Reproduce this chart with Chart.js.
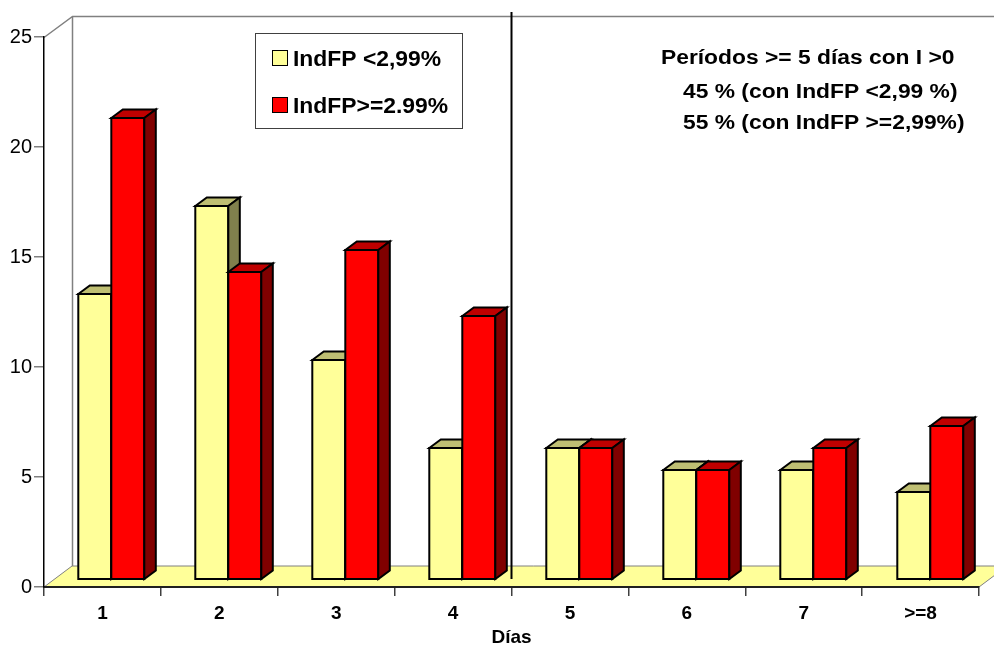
<!DOCTYPE html>
<html>
<head>
<meta charset="utf-8">
<script src="https://cdn.jsdelivr.net/npm/chart.js@4.4.1/dist/chart.umd.min.js"></script>
<style>
  html, body { margin: 0; padding: 0; background: #fff; }
  #wrap { width: 994px; height: 649px; }
</style>
</head>
<body>
<div id="wrap"><canvas id="chart" width="994" height="649"></canvas></div>
<script>
const categories = ["1", "2", "3", "4", "5", "6", "7", ">=8"]
const lowIndFP = [13, 17, 10, 6, 6, 5, 5, 4]
const highIndFP = [21, 14, 15, 12, 6, 5, 6, 7]
const seriesNames = ["IndFP <2,99%", "IndFP>=2.99%"]
const yTicks = [0, 5, 10, 15, 20, 25]
const noteLines = ["Períodos >= 5 días con I >0", "45 % (con IndFP <2,99 %)", "55 % (con IndFP >=2,99%)"]

const FONT = "'Liberation Sans', Arial, sans-serif"

// fake 3D: depth of the floor/walls, where the bars sit in it, and how deep a bar is
const DEPTH = { dx: 28, dy: -21 }
const BAR_SHIFT = { dx: 9.3, dy: -7 }
const BAR_DEPTH = { dx: 11.5, dy: -8.5 }

const faces = [
  { front: "#ffff99", top: "#bfbf73", side: "#80804d" },
  { front: "#ff0000", top: "#bf0000", side: "#800000" },
]

function poly(ctx, pts, fill) {
  ctx.beginPath()
  ctx.moveTo(pts[0][0], pts[0][1])
  for (let i = 1; i < pts.length; i++) ctx.lineTo(pts[i][0], pts[i][1])
  ctx.closePath()
  ctx.fillStyle = fill
  ctx.fill()
  ctx.stroke()
}

function stretchedText(ctx, text, x, y, font, sx) {
  ctx.save()
  ctx.translate(x, y)
  ctx.scale(sx, 1)
  ctx.font = font
  ctx.fillText(text, 0, 0)
  ctx.restore()
}

const box3d = {
  id: "box3d",
  beforeDraw(chart) {
    const { ctx, chartArea: a } = chart
    const { dx, dy } = DEPTH
    ctx.save()
    ctx.strokeStyle = "#808080"
    ctx.lineWidth = 1
    // floor
    poly(ctx, [[a.left, a.bottom], [a.left + dx, a.bottom + dy], [a.right + dx, a.bottom + dy], [a.right, a.bottom]], "#ffff99")
    // left wall edge + back wall edges
    ctx.lineWidth = 1.5
    ctx.beginPath()
    ctx.moveTo(a.left, a.top + 0.5)
    ctx.lineTo(a.left + dx + 0.5, a.top + dy + 0.5)
    ctx.lineTo(chart.width, a.top + dy + 0.5)
    ctx.moveTo(a.left + dx + 0.5, a.top + dy)
    ctx.lineTo(a.left + dx + 0.5, a.bottom + dy)
    ctx.stroke()
    ctx.restore()
  },
  beforeDatasetsDraw(chart) {
    chart.ctx.save()
    chart.ctx.translate(BAR_SHIFT.dx, BAR_SHIFT.dy)
  },
  afterDatasetsDraw(chart) {
    const { ctx } = chart
    const metas = [chart.getDatasetMeta(0), chart.getDatasetMeta(1)]
    const { dx, dy } = BAR_DEPTH
    ctx.strokeStyle = "#000"
    ctx.lineWidth = 2
    ctx.lineJoin = "miter"
    categories.forEach((c, i) => {
      metas.forEach((meta, d) => {
        const b = meta.data[i].getProps(["x", "y", "base", "width"], true)
        const l = Math.round(b.x - b.width / 2)
        const r = Math.round(b.x + b.width / 2)
        const t = Math.round(b.y)
        const bot = Math.round(b.base)
        poly(ctx, [[l, t], [r, t], [r, bot], [l, bot]], faces[d].front)
        poly(ctx, [[l, t], [l + dx, t + dy], [r + dx, t + dy], [r, t]], faces[d].top)
        poly(ctx, [[r, t], [r + dx, t + dy], [r + dx, bot + dy], [r, bot]], faces[d].side)
      })
    })
    ctx.restore()

    // separator between 4 and 5
    const xs = chart.scales.x
    const sep = (xs.getPixelForValue(3) + xs.getPixelForValue(4)) / 2
    ctx.save()
    ctx.strokeStyle = "#000"
    ctx.lineWidth = 2
    ctx.beginPath()
    ctx.moveTo(sep, 12)
    ctx.lineTo(sep, 579)
    ctx.stroke()

    // legend
    ctx.lineWidth = 1
    ctx.strokeStyle = "#404040"
    ctx.fillStyle = "#fff"
    ctx.fillRect(255.5, 33.5, 207, 95)
    ctx.strokeRect(255.5, 33.5, 207, 95)
    ctx.strokeStyle = "#000"
    const rows = [50.5, 97.5]
    seriesNames.forEach((name, d) => {
      ctx.fillStyle = faces[d].front
      ctx.fillRect(272.5, rows[d], 15, 15)
      ctx.strokeRect(272.5, rows[d], 15, 15)
      ctx.fillStyle = "#000"
      stretchedText(ctx, name, 293, rows[d] + 15.5, "bold 22px " + FONT, 1.04)
    })

    // note
    ctx.fillStyle = "#000"
    const noteX = [661, 683, 683]
    const noteY = [64, 97.5, 128.5]
    noteLines.forEach((line, k) => {
      stretchedText(ctx, line, noteX[k], noteY[k], "bold 19.5px " + FONT, 1.17)
    })
    ctx.restore()
  }
}

new Chart(document.getElementById("chart"), {
  type: "bar",
  data: {
    labels: categories,
    datasets: [
      { label: seriesNames[0], data: lowIndFP, backgroundColor: faces[0].front, borderColor: "#000", borderWidth: 1, borderSkipped: false },
      { label: seriesNames[1], data: highIndFP, backgroundColor: faces[1].front, borderColor: "#000", borderWidth: 1, borderSkipped: false },
    ]
  },
  options: {
    responsive: false,
    animation: false,
    devicePixelRatio: 1,
    layout: { padding: { top: 37, right: 15, left: 0, bottom: 0 } },
    datasets: { bar: { barPercentage: 1, categoryPercentage: 0.565, clip: false } },
    plugins: {
      legend: { display: false },
      tooltip: { enabled: false },
    },
    scales: {
      x: {
        grid: { drawOnChartArea: false, tickLength: 9, color: "#404040", lineWidth: 1.5, offset: true },
        border: { color: "#202020", width: 2 },
        ticks: { font: { size: 19, weight: "bold", family: FONT }, color: "#000", padding: 6, maxRotation: 0 },
        title: { display: true, text: "Días", color: "#000", font: { size: 19, weight: "bold", family: FONT }, padding: { top: 1, bottom: 0 } },
        afterFit: (s) => { s.height = 62 },
      },
      y: {
        min: 0,
        max: 25,
        afterBuildTicks: (s) => { s.ticks = yTicks.map(v => ({ value: v })) },
        grid: { drawOnChartArea: false, tickLength: 10, color: "#808080", lineWidth: 1.5 },
        border: { color: "#000", width: 1.5 },
        ticks: { font: { size: 20, family: FONT }, color: "#000", padding: 2 },
        afterFit: (s) => { s.width = 44 },
      }
    }
  },
  plugins: [box3d]
})
</script>
</body>
</html>
